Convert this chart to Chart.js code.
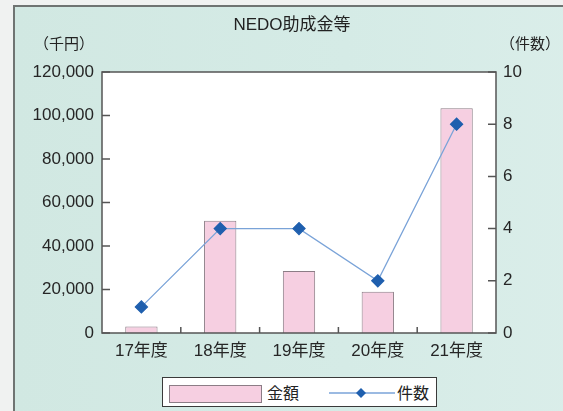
<!DOCTYPE html>
<html>
<head>
<meta charset="utf-8">
<script src="https://cdn.jsdelivr.net/npm/chart.js@4"></script>
<style>
    body { margin: 0; }
    #wrap { position: relative; width: 563px; height: 411px; overflow: hidden; background: #f0f2f1; }
    #frame {
        position: absolute; left: 13px; top: 5px; width: 600px; height: 450px;
        border-left: 2px solid #6f7472; border-top: 2px solid #6f7472;
        background: linear-gradient(to right, #d1e8e2 0%, #d5ebe6 55%, #dbeeea 100%);
    }
    #chart { position: absolute; left: 0; top: 0; }
    #legend {
        position: absolute; left: 162px; top: 377px; width: 273px; height: 28px;
        background: #fff; border: 1.5px solid #3a3a3a;
        font-family: "Noto Sans CJK JP", sans-serif; font-size: 16px; color: #222;
    }
    #legend .sw {
        position: absolute; left: 6px; top: 7px; width: 91px; height: 16px;
        background: #f6cfe1; border: 1px solid #8c7d86;
    }
    #legend .t { position: absolute; top: 2px; line-height: 24px; }
    #legend svg { position: absolute; left: 166px; top: 7px; }
</style>
</head>
<body>
<div id="wrap">
    <div id="frame"></div>
    <canvas id="chart" width="563" height="411"></canvas>
    <div id="legend">
        <div class="sw"></div>
        <span class="t" style="left:104px">金額</span>
        <svg width="66" height="16"><line x1="0" y1="8" x2="66" y2="8" stroke="#7aa3d8" stroke-width="1.3"/><polygon points="32,3 37,8 32,13 27,8" fill="#1f5fae"/></svg>
        <span class="t" style="left:234px">件数</span>
    </div>
</div>
<script>
const categories = ['17年度', '18年度', '19年度', '20年度', '21年度'];
const amounts = [3000, 51600, 28500, 19000, 103300]; // 金額（千円）
const counts = [1, 4, 4, 2, 8]; // 件数

Chart.defaults.font.family = '"Liberation Sans", "Noto Sans CJK JP", sans-serif';
Chart.defaults.font.size = 17;
Chart.defaults.color = '#262626';

// 白い描画領域と外枠、内向きの目盛り、タイトル類
const decor = {
    id: 'decor',
    beforeDatasetsDraw(chart) {
        const { ctx, chartArea: a } = chart;
        ctx.save();
        ctx.fillStyle = '#fff';
        ctx.fillRect(a.left, a.top, a.right - a.left, a.bottom - a.top);
        ctx.restore();
    },
    afterDraw(chart) {
        const { ctx, chartArea: a, scales } = chart;
        ctx.save();
        ctx.strokeStyle = '#555';
        ctx.lineWidth = 1.5;
        ctx.strokeRect(a.left, a.top, a.right - a.left, a.bottom - a.top);
        ctx.beginPath();
        scales.y.ticks.forEach(t => {
            const y = scales.y.getPixelForValue(t.value);
            ctx.moveTo(a.left, y); ctx.lineTo(a.left + 8, y);
        });
        scales.y1.ticks.forEach(t => {
            const y = scales.y1.getPixelForValue(t.value);
            ctx.moveTo(a.right - 8, y); ctx.lineTo(a.right, y);
        });
        const half = (scales.x.getPixelForValue(1) - scales.x.getPixelForValue(0)) / 2;
        for (let i = 1; i < categories.length; i++) {
            const x = scales.x.getPixelForValue(i) - half;
            ctx.moveTo(x, a.bottom - 6); ctx.lineTo(x, a.bottom);
        }
        ctx.stroke();

        ctx.fillStyle = '#222';
        ctx.textBaseline = 'middle';
        ctx.textAlign = 'center';
        ctx.font = '17px "Liberation Sans", "Noto Sans CJK JP", sans-serif';
        ctx.fillText('NEDO助成金等', 292, 25);
        ctx.font = '15px "Noto Sans CJK JP", sans-serif';
        ctx.textAlign = 'left';
        ctx.fillText('（千円）', 34, 43);
        ctx.fillText('（件数）', 500, 43);
        ctx.restore();
    }
};

new Chart(document.getElementById('chart').getContext('2d'), {
    data: {
        labels: categories,
        datasets: [
            {
                type: 'line',
                label: '件数',
                data: counts,
                yAxisID: 'y1',
                order: 0,
                borderColor: '#7aa3d8',
                borderWidth: 1.3,
                pointStyle: 'rectRot',
                pointRadius: 6,
                pointBackgroundColor: '#1f5fae',
                pointBorderColor: '#1f5fae',
                tension: 0
            },
            {
                type: 'bar',
                label: '金額',
                data: amounts,
                yAxisID: 'y',
                order: 1,
                backgroundColor: '#f6cfe1',
                borderColor: '#8c7d86',
                borderWidth: 1,
                categoryPercentage: 1,
                barPercentage: 0.41
            }
        ]
    },
    options: {
        responsive: false,
        animation: false,
        layout: { padding: { top: 72, left: 0, right: 0, bottom: 0 } },
        plugins: {
            legend: { display: false },
            title: { display: false },
            tooltip: { enabled: false }
        },
        scales: {
            x: {
                offset: true,
                grid: { display: false, drawTicks: false },
                border: { display: false },
                ticks: { padding: 8 },
                afterFit: s => { s.height = 78; }
            },
            y: {
                position: 'left',
                min: 0,
                max: 120000,
                grid: { display: false, drawTicks: false },
                border: { display: false },
                ticks: { stepSize: 20000, padding: 8 },
                afterFit: s => { s.width = 102; }
            },
            y1: {
                position: 'right',
                min: 0,
                max: 10,
                grid: { display: false, drawTicks: false },
                border: { display: false },
                ticks: { stepSize: 2, padding: 7 },
                afterFit: s => { s.width = 67; }
            }
        }
    },
    plugins: [decor]
});
</script>
</body>
</html>
